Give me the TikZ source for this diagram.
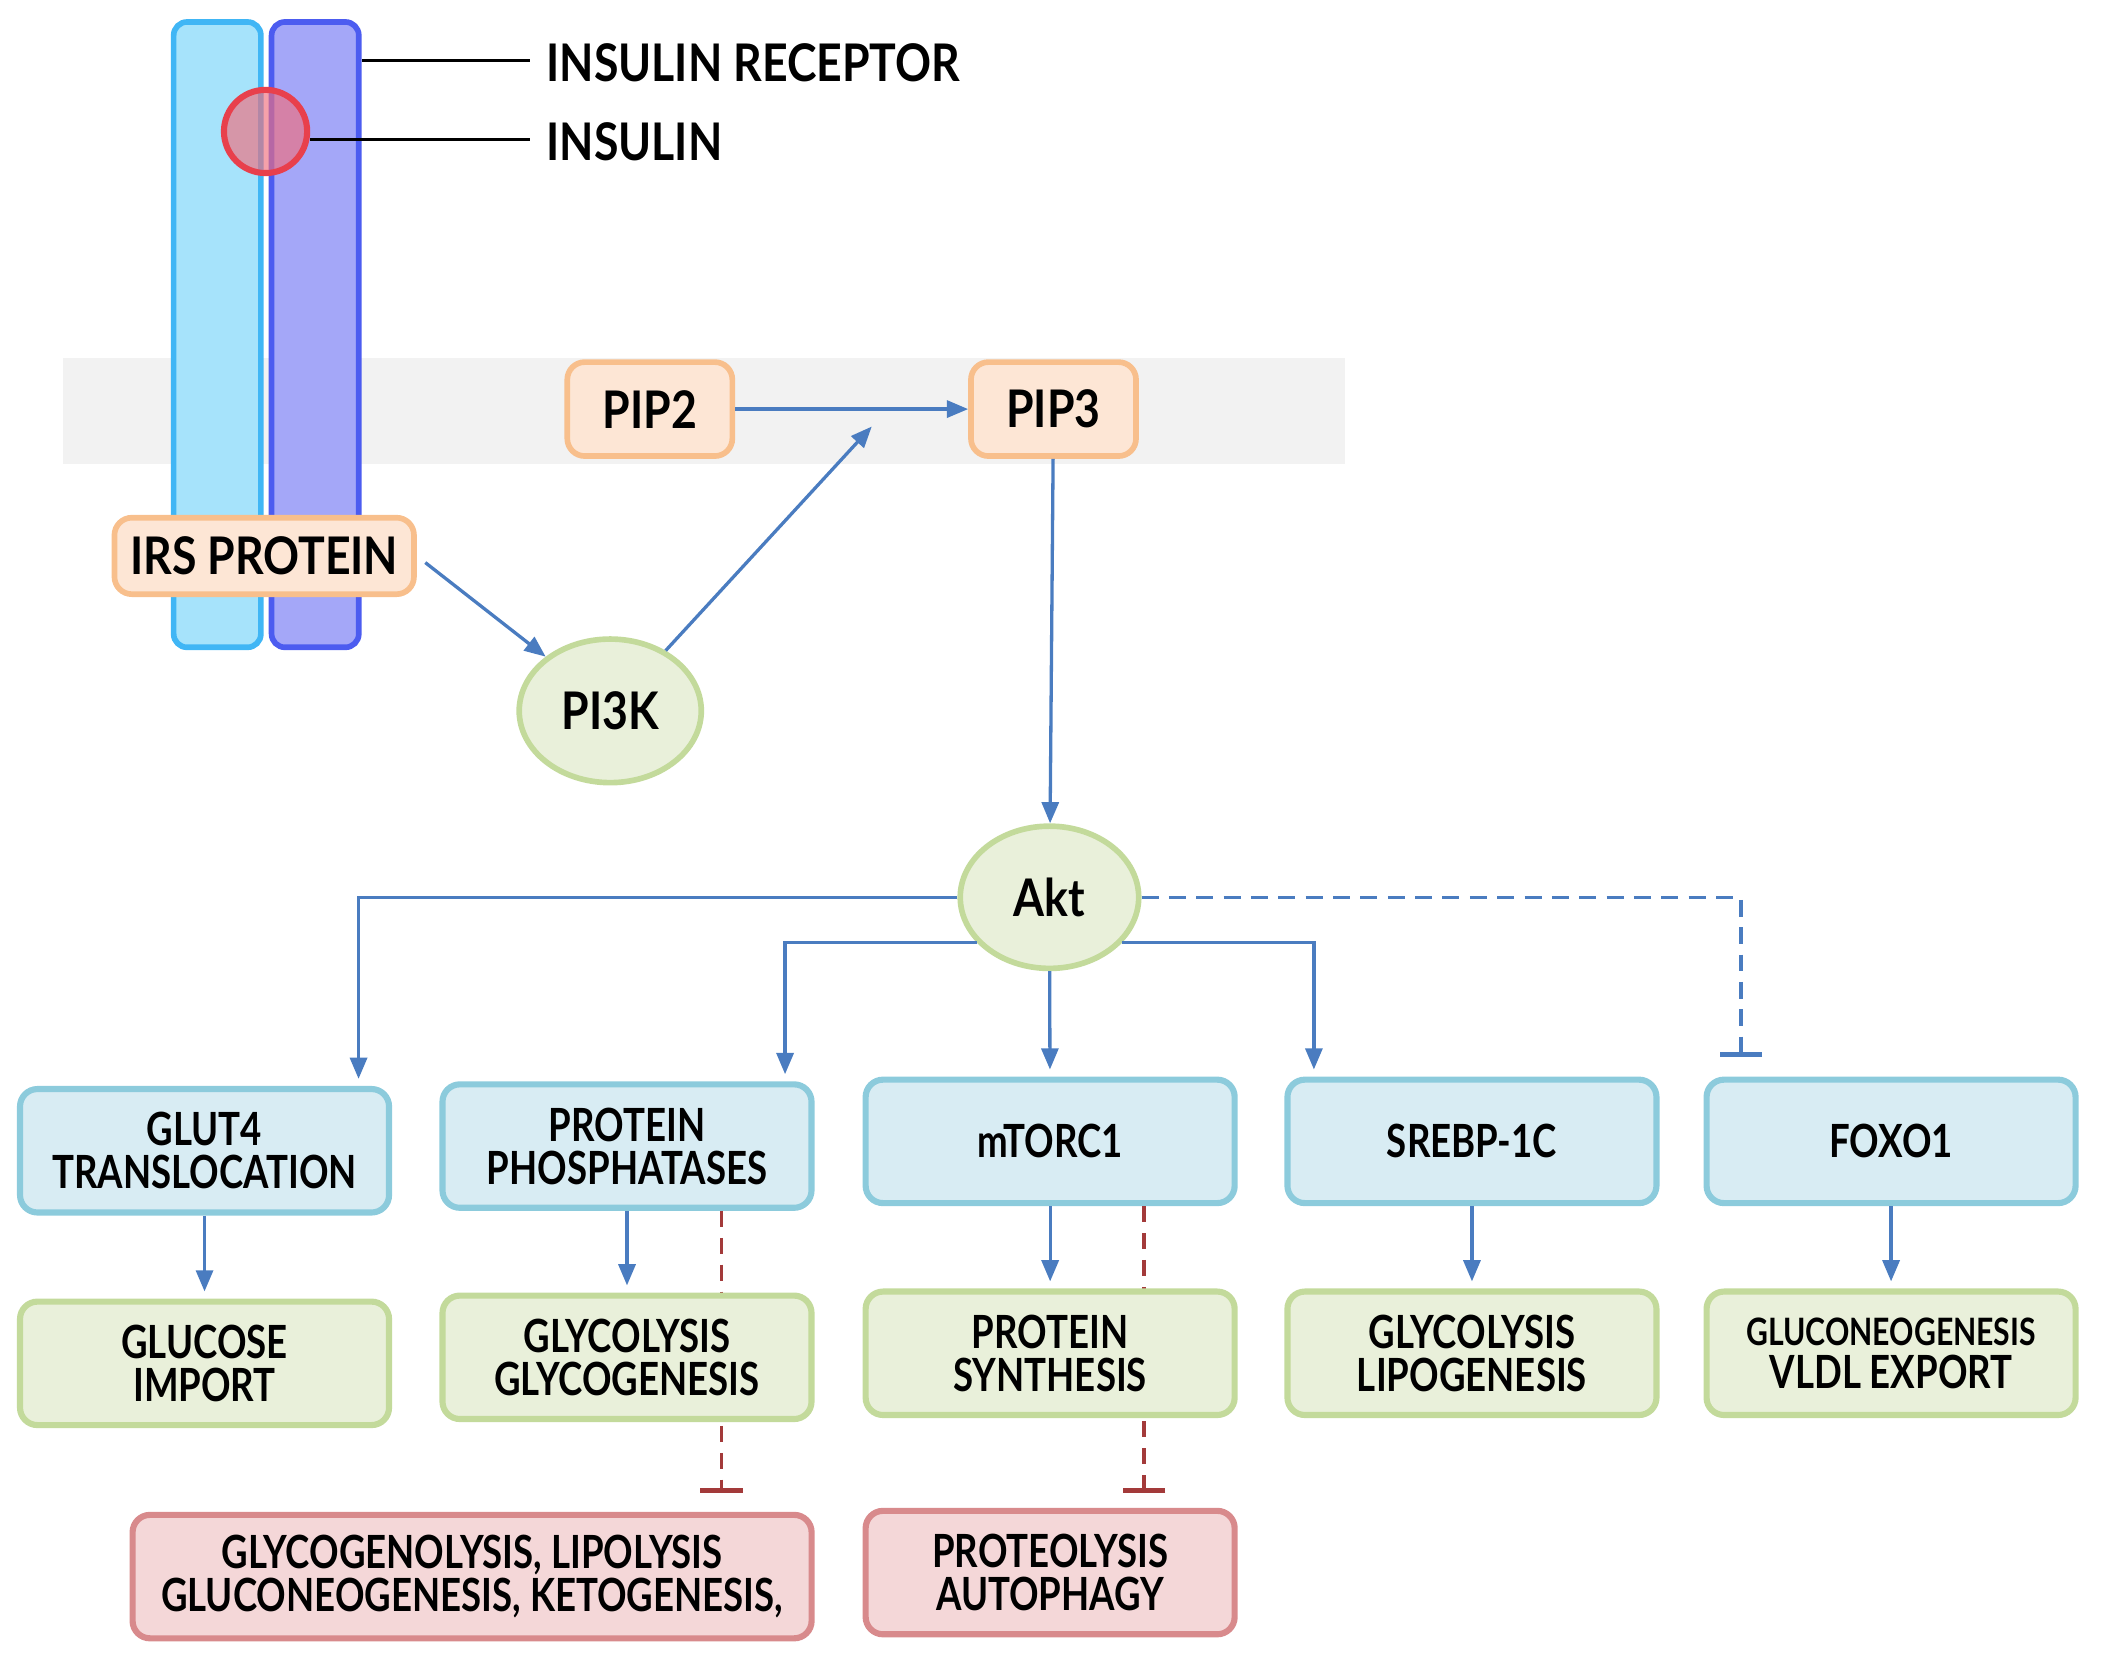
\documentclass[tikz,border=0pt]{standalone}
\usepackage{fontspec}
\setmainfont{Lato}[FakeStretch=0.86]
\newfontfamily\narrowfamily{Lato}[FakeStretch=0.80]
\usetikzlibrary{arrows.meta,shapes.geometric}

\definecolor{arrowblue}{RGB}{74,124,192}
\definecolor{inhibred}{RGB}{163,58,58}
\definecolor{bluefill}{RGB}{216,236,243}
\definecolor{blueline}{RGB}{140,203,220}
\definecolor{greenfill}{RGB}{233,240,218}
\definecolor{greenline}{RGB}{195,218,155}
\definecolor{redfill}{RGB}{244,215,216}
\definecolor{redline}{RGB}{216,138,140}
\definecolor{peachfill}{RGB}{253,230,213}
\definecolor{peachline}{RGB}{248,191,140}
\definecolor{chainAfill}{RGB}{166,227,251}
\definecolor{chainAline}{RGB}{64,182,245}
\definecolor{chainBfill}{RGB}{164,167,248}
\definecolor{chainBline}{RGB}{76,92,240}
\definecolor{insulinline}{RGB}{232,64,76}
\definecolor{insulinfill}{RGB}{240,110,125}
\definecolor{membrane}{RGB}{242,242,242}

\newcommand{\boxfont}{\narrowfamily\bfseries\fontsize{9.7}{9.1}\selectfont}
\newcommand{\bigfont}{\bfseries\fontsize{11}{12}\selectfont}

\begin{document}
\begin{tikzpicture}[x=0.01cm, y=-0.01cm,
  cellbox/.style={rounded corners=0.13cm, line width=1.3pt, minimum width=2.75cm, minimum height=0.92cm, align=center, font=\boxfont},
  targetbox/.style={cellbox, draw=blueline, fill=bluefill},
  effectbox/.style={cellbox, draw=greenline, fill=greenfill},
  blockbox/.style={cellbox, draw=redline, fill=redfill},
  lipidbox/.style={rounded corners=0.13cm, line width=1.2pt, draw=peachline, fill=peachfill, minimum height=0.70cm, font=\bigfont},
  kinase/.style={ellipse, line width=1.2pt, draw=greenline, fill=greenfill, font=\bigfont},
  chain/.style={rounded corners=0.1cm, line width=1.2pt, minimum width=0.65cm, minimum height=4.66cm},
  act/.style={arrowblue, line width=0.7pt, -{Triangle[length=4.5pt, width=3.6pt]}},
  inhib/.style={line width=0.7pt, dash pattern=on 3.4pt off 2.3pt, -{Bar[width=9pt, line width=1pt]}}]
\useasboundingbox (0,0) rectangle (1568,1241);

% membrane band
\fill[membrane] (47,267) rectangle (1003,346);

% receptor and insulin
\node[chain, draw=chainAline, fill=chainAfill] (chainA) at (162,249.5) {};
\node[chain, draw=chainBline, fill=chainBfill] (chainB) at (235,249.5) {};
\node[circle, minimum size=0.62cm, line width=1.3pt, draw=insulinline, fill=insulinfill, fill opacity=0.65] (ins) at (198,98) {};

\node[anchor=west, font=\bigfont] (reclabel) at (395,47) {INSULIN RECEPTOR};
\node[anchor=west, font=\bigfont] (inslabel) at (395,106) {INSULIN};
\draw[line width=0.6pt] ([yshift=0.02cm]reclabel.west) -- ([yshift=0.02cm]reclabel.west -| chainB.east);
\draw[line width=0.6pt] ([yshift=0.02cm]inslabel.west) -- ([yshift=0.02cm]inslabel.west -| ins.east);

% signalling
\node[lipidbox, minimum width=1.23cm] (pip2) at (484.5,305) {PIP2};
\node[lipidbox, minimum width=1.23cm] (pip3) at (785.5,305) {PIP3};
\node[lipidbox, minimum width=2.20cm, minimum height=0.57cm] (irs) at (197,414.5) {IRS PROTEIN};
\node[kinase, minimum width=1.34cm, minimum height=1.07cm] (pi3k) at (455,530) {PI3K};
\node[kinase, minimum width=1.33cm, minimum height=1.06cm] (akt) at (782.5,669) {Akt};
\coordinate (pipmid) at (650,318);

\draw[act] (pip2) -- (pip3);
\draw[act, shorten <=0.08cm] (irs.east) -- (pi3k.140);
\draw[act] (pi3k) -- (pipmid);
\draw[act] (pip3) -- (akt);

% targets of Akt
\node[targetbox] (glut) at (152.5,858) {GLUT4\\TRANSLOCATION};
\node[targetbox] (pp) at (467.5,854.5) {PROTEIN\\PHOSPHATASES};
\node[targetbox] (mtor) at (783,851) {mTORC1};
\node[targetbox] (srebp) at (1097.5,851) {SREBP-1C};
\node[targetbox] (foxo) at (1410,851) {FOXO1};
\coordinate (foxostop) at (1298,788);

\draw[act, shorten >=1.5pt] (akt.west) -| ([xshift=-0.25cm]glut.north east);
\draw[act, shorten >=1.5pt] (akt.-148) -| ([xshift=-0.22cm]pp.north east);
\draw[act, shorten >=1.5pt] (akt) -- (mtor);
\draw[act, shorten >=1.5pt] (akt.-32) -| ([xshift=0.22cm]srebp.north west);
\draw[inhib, arrowblue, dash pattern=on 3.6pt off 2.2pt] (akt.east) -| (foxostop);

% inhibition behind the effect boxes
\coordinate (ppstop) at (538,1113);
\coordinate (mtorstop) at (853,1113);
\draw[inhib, inhibred] (pp.south -| ppstop) -- (ppstop);
\draw[inhib, inhibred] (mtor.south -| mtorstop) -- (mtorstop);

% effects
\node[effectbox] (glucose) at (152.5,1016.5) {GLUCOSE\\IMPORT};
\node[effectbox] (glyco) at (467.5,1012) {GLYCOLYSIS\\GLYCOGENESIS};
\node[effectbox] (synth) at (783,1009) {PROTEIN\\SYNTHESIS};
\node[effectbox] (lipo) at (1097.5,1009) {GLYCOLYSIS\\LIPOGENESIS};
\node[effectbox] (vldl) at (1410,1009) {{\fontsize{8}{9.1}\selectfont GLUCONEOGENESIS}\\VLDL EXPORT};

\draw[act, shorten >=1.5pt] (glut) -- (glucose);
\draw[act, shorten >=1.5pt] (pp) -- (glyco);
\draw[act, shorten >=1.5pt] (mtor) -- (synth);
\draw[act, shorten >=1.5pt] (srebp) -- (lipo);
\draw[act, shorten >=1.5pt] (foxo) -- (vldl);

% blocked processes
\node[blockbox, minimum width=5.06cm] (catab) at (352,1175.5) {GLYCOGENOLYSIS, LIPOLYSIS\\GLUCONEOGENESIS, KETOGENESIS,};
\node[blockbox] (auto) at (783,1172.5) {PROTEOLYSIS\\AUTOPHAGY};
\end{tikzpicture}
\end{document}
